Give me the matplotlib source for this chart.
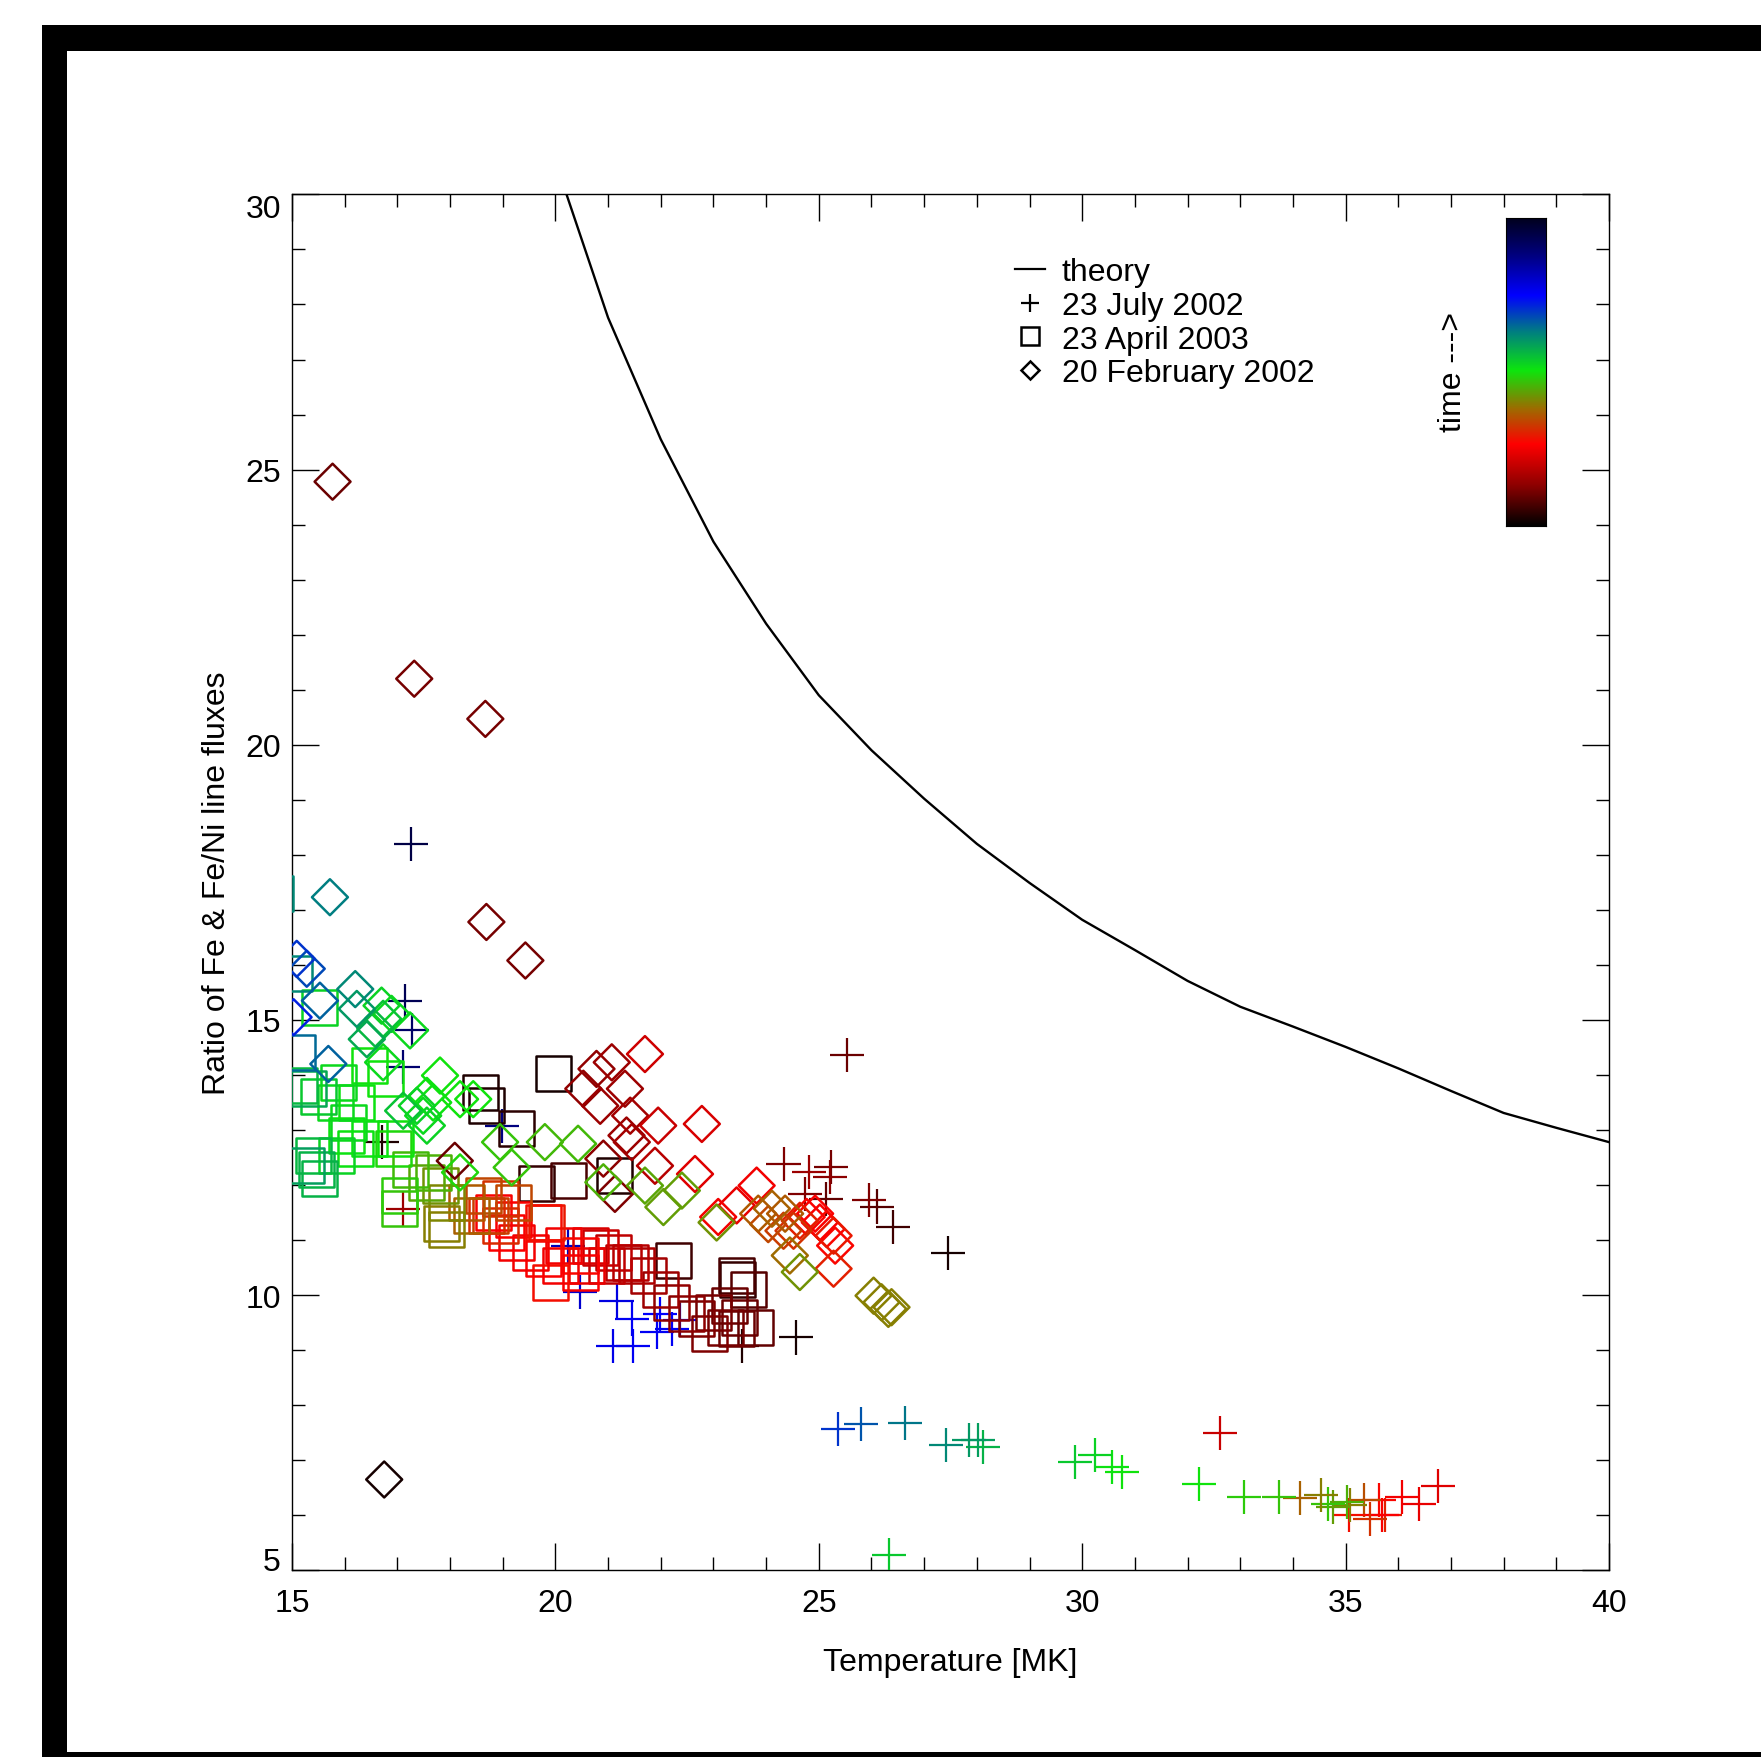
import numpy as np
import matplotlib
matplotlib.use('Agg')
import matplotlib.pyplot as plt
from matplotlib.colors import LinearSegmentedColormap
from matplotlib.patches import Rectangle
from matplotlib.lines import Line2D
from matplotlib.ticker import MultipleLocator

plt.rcParams['font.family'] = ['Liberation Sans', 'DejaVu Sans']

# ---------------- data ----------------
theory_T = [20, 21, 22, 23, 24, 25, 26, 27, 28, 29, 30, 31, 32, 33, 34, 35, 36, 37, 38, 39, 40]
theory_R = [30.6, 27.76, 25.55, 23.69, 22.20, 20.90, 19.90, 19.02, 18.20, 17.49, 16.82, 16.27,
            15.71, 15.24, 14.88, 14.51, 14.12, 13.71, 13.31, 13.04, 12.78]

# 23 July 2002 (plus)
jul_T = [27.46, 24.57, 23.54, 26.40, 26.10, 25.14, 25.96, 24.74, 25.24, 25.21, 24.82, 24.33, 25.53,
         17.11, 16.70, 32.62, 36.76, 36.39, 36.08, 35.75, 35.70, 35.64, 35.46, 35.35, 35.06, 35.08,
         35.02, 34.76, 34.67, 34.53, 34.13, 33.74, 33.07, 32.22, 30.76, 30.56, 30.24, 29.86, 26.33,
         28.12, 28.03, 27.86, 27.41, 26.64, 25.81, 25.37, 22.37, 22.21, 21.99, 21.92, 21.45, 21.48,
         21.10, 21.16, 20.47, 20.24, 18.98, 17.11, 17.27, 17.15, 17.26]
jul_R = [10.76, 9.23, 9.08, 11.24, 11.61, 11.75, 11.72, 11.84, 12.32, 12.14, 12.23, 12.38, 14.37,
         11.57, 12.78, 7.49, 6.54, 6.21, 6.33, 6.00, 6.00, 6.27, 5.93, 6.27, 6.00, 6.18,
         6.24, 6.15, 6.21, 6.36, 6.31, 6.33, 6.33, 6.57, 6.79, 6.87, 7.10, 6.97, 5.28,
         7.24, 7.36, 7.37, 7.28, 7.67, 7.66, 7.57, 9.54, 9.39, 9.66, 9.33, 9.57, 9.08,
         9.08, 9.90, 10.05, 10.90, 13.08, 14.14, 14.81, 15.35, 18.20]
jul_c = [0.02, 0.02, 0.03, 0.06, 0.08, 0.09, 0.12, 0.12, 0.11, 0.13, 0.15, 0.12, 0.10,
         0.15, 0.03, 0.20, 0.23, 0.24, 0.25, 0.30, 0.26, 0.27, 0.32, 0.35, 0.28, 0.40,
         0.45, 0.43, 0.47, 0.40, 0.37, 0.47, 0.48, 0.50, 0.50, 0.51, 0.53, 0.54, 0.54,
         0.57, 0.59, 0.60, 0.62, 0.64, 0.67, 0.70, 0.75, 0.76, 0.75, 0.76, 0.76, 0.76,
         0.77, 0.78, 0.80, 0.82, 0.88, 0.90, 0.91, 0.93, 0.95]

# 23 April 2003 (square)
apr_T = [19.97, 18.57, 18.70, 19.27, 19.64, 20.24, 21.13, 22.24, 23.46, 23.44, 23.66, 23.79, 23.50,
         23.31, 23.44, 23.22, 23.00, 22.93, 22.68, 22.49, 22.21, 21.99, 21.76, 21.54, 21.42, 21.29,
         21.10, 20.97, 20.85, 20.66, 20.59, 20.47, 20.47, 20.15, 20.09, 19.90, 19.77, 19.52, 19.27,
         19.08, 19.20, 18.82, 19.83, 19.77, 18.95, 18.70, 18.95, 19.20, 18.63, 18.76, 18.32, 18.41,
         17.94, 17.94, 17.81, 17.83, 17.56, 17.68, 17.24, 17.05, 17.05, 16.92, 16.96, 16.48, 16.77,
         16.48, 16.20, 16.04, 16.07, 16.23, 15.82, 15.88, 15.85, 15.53, 15.50, 15.15, 15.31, 15.40,
         15.47, 15.53, 15.28, 15.10, 15.05, 14.68]
apr_R = [14.02, 13.69, 13.44, 13.02, 12.02, 12.08, 12.17, 10.63, 10.29, 10.35, 10.11, 9.42, 9.60,
         9.81, 9.39, 9.42, 9.69, 9.30, 9.57, 9.66, 9.87, 10.11, 10.35, 10.54, 10.60, 10.60,
         10.78, 10.54, 10.87, 10.90, 10.54, 10.72, 10.42, 10.90, 10.54, 10.23, 10.66, 10.78, 10.96,
         11.14, 11.38, 11.51, 11.32, 11.32, 11.26, 11.44, 11.75, 11.69, 11.81, 11.44, 11.69, 11.45,
         11.20, 11.69, 11.99, 11.30, 12.05, 12.23, 12.29, 11.57, 11.81, 12.66, 12.84, 12.84, 13.93,
         14.17, 12.66, 12.90, 13.14, 13.50, 13.50, 13.87, 12.53, 15.23, 13.60, 13.81, 13.75, 12.53,
         12.29, 12.11, 12.35, 14.40, 15.85, 17.29]
apr_c = [0.02, 0.03, 0.03, 0.04, 0.05, 0.07, 0.03, 0.06, 0.05, 0.07, 0.08, 0.09, 0.10,
         0.10, 0.10, 0.11, 0.11, 0.12, 0.12, 0.13, 0.14, 0.15, 0.16, 0.17, 0.18, 0.18,
         0.19, 0.19, 0.20, 0.22, 0.24, 0.27, 0.26, 0.25, 0.25, 0.28, 0.26, 0.25, 0.25,
         0.26, 0.26, 0.26, 0.29, 0.28, 0.31, 0.31, 0.32, 0.34, 0.34, 0.33, 0.36, 0.37,
         0.40, 0.41, 0.42, 0.40, 0.44, 0.45, 0.46, 0.47, 0.48, 0.49, 0.50, 0.51, 0.50,
         0.50, 0.51, 0.51, 0.52, 0.51, 0.52, 0.52, 0.53, 0.53, 0.54, 0.56, 0.58, 0.56,
         0.57, 0.57, 0.59, 0.65, 0.62, 0.62]

# 20 February 2002 (diamond)
feb_T = [16.75, 15.77, 17.32, 18.67, 18.69, 19.43, 18.09, 21.13, 20.91, 20.53, 20.78, 21.07, 20.85,
         21.32, 21.35, 21.45, 21.42, 21.89, 21.95, 21.70, 22.78, 22.65, 23.44, 23.82, 23.09, 24.77,
         24.93, 25.02, 25.15, 25.31, 25.28, 25.28, 24.64, 24.52, 24.33, 24.04, 24.36, 23.85, 24.11,
         24.45, 24.64, 26.04, 26.19, 26.32, 26.38, 23.06, 22.40, 22.05, 21.70, 20.91, 20.43, 19.80,
         19.17, 18.95, 18.19, 18.44, 18.19, 17.81, 17.56, 17.68, 17.49, 17.56, 17.37, 17.11, 16.73,
         17.24, 16.89, 16.70, 16.73, 16.58, 16.42, 16.23, 16.20, 15.72, 15.53, 15.69, 15.28, 15.09,
         15.03]
feb_R = [6.65, 24.78, 21.20, 20.47, 16.78, 16.08, 12.44, 11.84, 12.48, 13.75, 14.11, 14.23, 13.44,
         13.75, 12.90, 12.78, 13.26, 12.35, 13.08, 14.38, 13.11, 12.20, 11.63, 11.99, 11.42, 11.42,
         11.48, 11.32, 11.20, 10.90, 11.08, 10.48, 11.35, 11.17, 11.17, 11.29, 11.48, 11.48, 11.57,
         10.72, 10.42, 9.99, 9.87, 9.75, 9.78, 11.32, 11.90, 11.60, 11.99, 12.05, 12.75, 12.78,
         12.32, 12.78, 12.23, 13.56, 13.56, 13.99, 13.62, 13.50, 13.26, 13.08, 13.44, 13.35, 14.23,
         14.81, 15.11, 15.26, 15.02, 14.84, 14.65, 15.20, 15.56, 17.23, 15.35, 14.20, 15.93, 16.11,
         15.05]
feb_c = [0.02, 0.10, 0.11, 0.11, 0.11, 0.11, 0.10, 0.12, 0.13, 0.14, 0.14, 0.15, 0.15,
         0.15, 0.15, 0.16, 0.16, 0.18, 0.20, 0.21, 0.22, 0.23, 0.24, 0.25, 0.25, 0.26,
         0.26, 0.26, 0.27, 0.27, 0.29, 0.30, 0.30, 0.32, 0.33, 0.34, 0.36, 0.36, 0.37,
         0.38, 0.42, 0.40, 0.40, 0.40, 0.40, 0.42, 0.43, 0.43, 0.44, 0.45, 0.46, 0.46,
         0.47, 0.47, 0.49, 0.50, 0.50, 0.50, 0.51, 0.51, 0.52, 0.53, 0.53, 0.55, 0.52,
         0.52, 0.52, 0.53, 0.55, 0.56, 0.58, 0.60, 0.62, 0.63, 0.66, 0.66, 0.68, 0.70,
         0.72]

labels = ['theory', '23 July 2002', '23 April 2003', '20 February 2002']

# ---------------- colormap ----------------
cmap = LinearSegmentedColormap.from_list('timecol', [
    (0.00, (0.0, 0.0, 0.0)),
    (0.13, (0.55, 0.0, 0.0)),
    (0.265, (1.0, 0.0, 0.0)),
    (0.38, (0.62, 0.42, 0.0)),
    (0.505, (0.05, 0.9, 0.05)),
    (0.63, (0.0, 0.5, 0.5)),
    (0.75, (0.0, 0.0, 1.0)),
    (0.88, (0.0, 0.0, 0.5)),
    (1.00, (0.0, 0.0, 0.12)),
])

W, H = 1761, 1758
fig = plt.figure(figsize=(W / 100, H / 100), dpi=100)
fig.patch.set_facecolor('white')
fig.patches.append(Rectangle((41.5 / W, 0), 1.0, 1 - 26 / H, transform=fig.transFigure,
                             facecolor='black', edgecolor='none', zorder=-3))
fig.patches.append(Rectangle((67.4 / W, 5 / H), 1.0, (1753 - 52) / H, transform=fig.transFigure,
                             facecolor='white', edgecolor='none', zorder=-2))

ax = fig.add_axes([292 / W, 1 - 1571.3 / H, (1609 - 292) / W, (1571.3 - 195.4) / H])
ax.set_facecolor('none')

ax.plot(theory_T, theory_R, color='black', lw=1.7, zorder=2)

ax.scatter(jul_T, jul_R, marker='+', s=24.5 ** 2, c=cmap(np.array(jul_c)), linewidths=1.6, zorder=3)
ax.scatter(apr_T, apr_R, marker='s', s=25.2 ** 2, facecolors='none',
           edgecolors=cmap(np.array(apr_c)), linewidths=1.8, zorder=4)
ax.scatter(feb_T, feb_R, marker='D', s=18.3 ** 2, facecolors='none',
           edgecolors=cmap(np.array(feb_c)), linewidths=1.8, zorder=5)

ax.set_xlim(15, 40)
ax.set_ylim(5, 30)
ax.set_xticks([15, 20, 25, 30, 35, 40])
ax.set_yticks([5, 10, 15, 20, 25, 30])
ax.xaxis.set_minor_locator(MultipleLocator(1))
ax.yaxis.set_minor_locator(MultipleLocator(1))
ax.tick_params(which='both', direction='in', top=True, right=True, width=1.0, color='black')
ax.tick_params(which='major', length=19.4, labelsize=23)
ax.tick_params(which='minor', length=9.4)
ax.tick_params(axis='x', pad=12.5)
ax.tick_params(axis='y', pad=8)
for sp in ax.spines.values():
    sp.set_linewidth(1.0)

# end labels of the y axis sit inside the axis range, as in the original
yt = ax.yaxis.get_major_ticks()
yt[0].label1.set_verticalalignment('baseline')
yt[-1].label1.set_verticalalignment('top')

ax.set_xlabel('Temperature [MK]', fontsize=23, va='center')
ax.xaxis.set_label_coords(0.5, -0.067)
ax.set_ylabel('Ratio of Fe & Fe/Ni line fluxes', fontsize=23, va='center')
ax.yaxis.set_label_coords(-0.0566, 0.5)

handles = [
    Line2D([], [], color='black', lw=1.6),
    Line2D([], [], color='black', marker='+', ls='none', ms=13, mew=1.6),
    Line2D([], [], color='black', marker='s', mfc='none', ls='none', ms=13.5, mew=1.8),
    Line2D([], [], color='black', marker='D', mfc='none', ls='none', ms=9.5, mew=1.8),
]
leg = ax.legend(handles, labels, loc='upper left', bbox_to_anchor=(1015 / W, 1 - 258 / H),
                bbox_transform=fig.transFigure, frameon=False, fontsize=23, borderpad=0,
                handlelength=0.94, handletextpad=0.53, labelspacing=0.118, borderaxespad=0)

# colour bar
cax = fig.add_axes([1506 / W, 1 - 527 / H, 40 / W, 308 / H])
cax.imshow(np.linspace(0, 1, 256)[:, None], aspect='auto', cmap=cmap, origin='lower')
cax.set_xticks([])
cax.set_yticks([])
for sp in cax.spines.values():
    sp.set_linewidth(0.8)
fig.text(1453 / W, 1 - 372 / H, 'time --->', rotation=90, fontsize=23, ha='center', va='center')

fig.savefig('out.png', dpi=100)
